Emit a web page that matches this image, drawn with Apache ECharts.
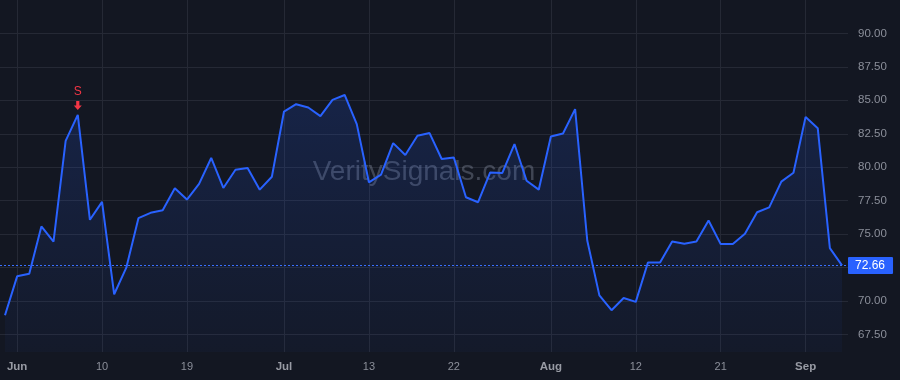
<!DOCTYPE html>
<html>
<head>
<meta charset="utf-8">
<script src="https://cdn.jsdelivr.net/npm/echarts@6/dist/echarts.min.js"></script>
<style>
  html, body { margin: 0; padding: 0; background: #131722; }
  #chart { width: 900px; height: 380px; }
</style>
</head>
<body>
<div id="chart"></div>
<script>
// trading days, May 29 - Sep 4
var dates = [
  '05-29',
  '06-01','06-02','06-03','06-04','06-05','06-08','06-09','06-10','06-11','06-12',
  '06-15','06-16','06-17','06-18','06-19','06-22','06-23','06-24','06-25','06-26',
  '06-29','06-30',
  '07-01','07-02','07-06','07-07','07-08','07-09','07-10','07-13','07-14','07-15',
  '07-16','07-17','07-20','07-21','07-22','07-23','07-24','07-27','07-28','07-29',
  '07-30','07-31',
  '08-03','08-04','08-05','08-06','08-07','08-10','08-11','08-12','08-13','08-14',
  '08-17','08-18','08-19','08-20','08-21','08-24','08-25','08-26','08-27','08-28',
  '08-31',
  '09-01','09-02','09-03','09-04'
];
var prices = [
  68.93,
  71.84, 72.04, 75.57, 74.43, 81.97, 83.91, 76.07, 77.41, 70.50, 72.49,
  76.19, 76.59, 76.78, 78.42, 77.58, 78.75, 80.69, 78.45, 79.81, 79.94,
  78.32, 79.29,
  84.16, 84.71, 84.46, 83.82, 85.03, 85.40, 83.22, 78.87, 79.44, 81.80,
  80.91, 82.35, 82.55, 80.61, 80.73, 77.75, 77.38, 79.61, 79.57, 81.73,
  78.99, 78.32,
  82.30, 82.52, 84.34, 74.52, 70.42, 69.31, 70.22, 69.93, 72.88, 72.88,
  74.45, 74.28, 74.45, 76.01, 74.25, 74.25, 75.02, 76.63, 77.00, 78.92,
  79.59,
  83.76, 82.92, 73.95, 72.66
];
var tickLabels = {
  '06-01': 'Jun', '06-10': '10', '06-19': '19',
  '07-01': 'Jul', '07-13': '13', '07-22': '22',
  '08-03': 'Aug', '08-12': '12', '08-21': '21',
  '09-01': 'Sep'
};
var monthNames = ['Jun', 'Jul', 'Aug', 'Sep'];
var signals = [{ index: 6, label: 'S' }];
var watermark = 'VeritySignals.com';

var lastPrice = prices[prices.length - 1];
var seriesData = prices.map(function (v, i) { return [i, v]; });

var chart = echarts.init(document.getElementById('chart'));

var option = {
  backgroundColor: '#131722',
  animation: false,
  textStyle: { fontFamily: 'Liberation Sans, Arial, sans-serif' },
  graphic: [{
    type: 'text',
    x: 424,
    y: 172,
    z: 1,
    silent: true,
    style: {
      text: watermark,
      font: '28px "Liberation Sans", Arial, sans-serif',
      fill: 'rgba(140,146,165,0.38)',
      textAlign: 'center',
      textVerticalAlign: 'middle'
    }
  }],
  grid: [
    // price scale + horizontal lines
    { left: 0, right: 52, top: -1.26, height: 369.1 },
    // date labels + vertical lines
    { left: 5, right: 58, top: 0, height: 352 }
  ],
  xAxis: [
    {
      type: 'value', gridIndex: 0, min: -0.412, max: 69.495, show: false
    },
    {
      type: 'category', gridIndex: 1, data: dates, boundaryGap: false,
      axisLine: { show: false },
      axisTick: { show: false },
      axisLabel: {
        interval: function (i, v) { return tickLabels[v] !== undefined; },
        formatter: function (v) {
          var t = tickLabels[v];
          return monthNames.indexOf(t) >= 0 ? '{m|' + t + '}' : t;
        },
        color: '#8b8f9a',
        fontSize: 11,
        margin: 9,
        rich: {
          m: { fontWeight: 'bold', fontSize: 11.5, color: '#989ba4' }
        }
      },
      splitLine: {
        show: true,
        interval: function (i, v) { return tickLabels[v] !== undefined; },
        lineStyle: { color: '#252935', width: 1 }
      }
    }
  ],
  yAxis: [
    {
      type: 'value', gridIndex: 0, position: 'right',
      min: 65, max: 92.5, interval: 2.5,
      axisLine: { show: false },
      axisTick: { show: false },
      axisLabel: {
        color: '#8b8f9a', fontSize: 11.5, margin: 10,
        showMinLabel: false, showMaxLabel: false,
        formatter: function (v) { return v.toFixed(2); }
      },
      splitLine: {
        show: true, showMinLine: false, showMaxLine: false,
        lineStyle: { color: '#252935', width: 1 }
      }
    },
    {
      type: 'value', gridIndex: 1, min: 0, max: 1, show: false
    }
  ],
  series: [{
    type: 'line',
    xAxisIndex: 0,
    yAxisIndex: 0,
    data: seriesData,
    symbol: 'none',
    z: 3,
    lineStyle: { color: '#2962ff', width: 2 },
    areaStyle: {
      origin: 66.18,
      color: new echarts.graphic.LinearGradient(0, 0, 0, 1, [
        { offset: 0, color: 'rgba(41,98,255,0.24)' },
        { offset: 1, color: 'rgba(41,98,255,0.05)' }
      ])
    },
    markLine: {
      silent: true,
      symbol: ['none', 'none'],
      lineStyle: { color: '#3a70ff', type: [2, 2], width: 1 },
      label: {
        position: 'end',
        distance: 0,
        formatter: lastPrice.toFixed(2),
        color: '#ffffff',
        fontSize: 12,
        backgroundColor: '#2962ff',
        padding: [3, 8, 2, 7],
        borderRadius: 1
      },
      emphasis: { disabled: true },
      data: [{ yAxis: lastPrice }]
    },
    markPoint: {
      silent: true,
      symbol: 'path://M3,0 L7,0 L7,5 L10,5 L5,10 L0,5 L3,5 Z',
      symbolSize: [8, 9],
      symbolOffset: [0, -9.5],
      itemStyle: { color: '#f23645' },
      label: {
        show: true,
        position: 'top',
        distance: 3,
        color: '#f23645',
        fontSize: 12,
        formatter: function (p) { return p.name; }
      },
      data: signals.map(function (s) {
        return { name: s.label, coord: [s.index, prices[s.index]] };
      })
    }
  }]
};

chart.setOption(option);
</script>
</body>
</html>
